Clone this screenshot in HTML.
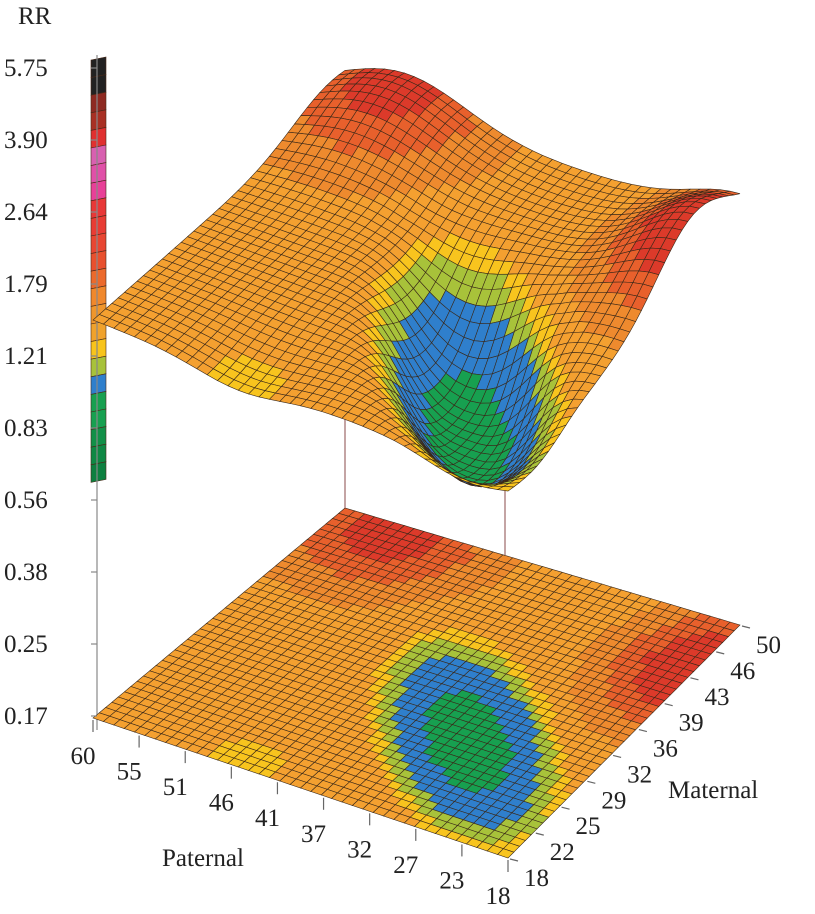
<!DOCTYPE html>
<html><head><meta charset="utf-8"><style>
body{margin:0;background:#fff;}
svg{display:block;}
text{font-family:"Liberation Serif",serif;fill:#222;}
</style></head><body>
<svg id="s" width="815" height="914" viewBox="0 0 815 914" xmlns="http://www.w3.org/2000/svg">
<g id="bar"></g>
<line x1="97" y1="55" x2="97" y2="730" stroke="#888" stroke-width="1.2"/>
<g id="floor"></g>
<line x1="345" y1="395" x2="345" y2="508" stroke="#8a4a4a" stroke-width="1"/>
<line x1="505" y1="480" x2="505" y2="555" stroke="#8a4a4a" stroke-width="1"/>
<g id="surf"></g>
<g id="ticks"></g>
<g font-size="25">
<text x="18" y="24">RR</text>
<text x="4" y="76">5.75</text>
<text x="4" y="148">3.90</text>
<text x="4" y="220">2.64</text>
<text x="4" y="292">1.79</text>
<text x="4" y="364">1.21</text>
<text x="4" y="436">0.83</text>
<text x="4" y="508">0.56</text>
<text x="4" y="580">0.38</text>
<text x="4" y="652">0.25</text>
<text x="4" y="724">0.17</text>
<text x="162" y="866">Paternal</text>
<text x="668" y="798">Maternal</text>
</g>
<g id="lab" font-size="25"></g>
</svg>
<script>
var NS="http://www.w3.org/2000/svg";
function el(p,t,a){var e=document.createElementNS(NS,t);for(var k in a)e.setAttribute(k,a[k]);p.appendChild(e);return e;}
var L=[93,718],F=[508,858],R=[740,625],B=[345,508];
function P(u,v){return [L[0]*(1-u)*(1-v)+F[0]*u*(1-v)+R[0]*u*v+B[0]*(1-u)*v,
 L[1]*(1-u)*(1-v)+F[1]*u*(1-v)+R[1]*u*v+B[1]*(1-u)*v];}
function g(u,v){
 var r=0;
 r+=0.35*Math.exp(-((u-0.15)*(u-0.15)/0.05+(v-0.95)*(v-0.95)/0.05));
 r+=0.45*Math.exp(-((u-1)*(u-1)/0.03+(v-0.8)*(v-0.8)/0.05));
 var s=P(u,v),dx=s[0]-468,dy=s[1]-742;
 var a=dx*0.5+dy*0.87,b=-dx*0.87+dy*0.5;
 var rr=Math.sqrt((a/64)*(a/64)+(b/47)*(b/47));
 r-=1.2*Math.exp(-Math.pow(rr/1.45,3));
 r-=0.17*Math.exp(-((u-0.35)*(u-0.35)/0.02+v*v/0.03));
 return r;}
function tilt(u,v){return 68*(1-u)*(1-v)+45*u*(1-v)+75*u*v+80*(1-u)*v;}
function Z(u,v){var q=g(u,v);return 330+tilt(u,v)+(q>0?130*q:78*q);}
function col(q){
 if(q>0.29)return "#dc3a2a";
 if(q>0.17)return "#e8602c";
 if(q>0.06)return "#ee8a2e";
 if(q>-0.12)return "#f4a030";
 if(q>-0.24)return "#f8c41e";
 if(q>-0.49)return "#a8c23a";
 if(q>-1.0)return "#2f7fcc";
 return "#17a050";}
var N=40,cells=[];
for(var i=0;i<N;i++)for(var j=0;j<N;j++)cells.push([i,j]);
cells.sort(function(a,b){return (a[0]-a[1])-(b[0]-b[1]);});
var fl=document.getElementById("floor"),sf=document.getElementById("surf");
cells.forEach(function(c){
 var u0=c[0]/N,u1=(c[0]+1)/N,v0=c[1]/N,v1=(c[1]+1)/N;
 var q=g((u0+u1)/2,(v0+v1)/2),cl=col(q);
 var pts=[[u0,v0],[u1,v0],[u1,v1],[u0,v1]];
 var fs=pts.map(function(p){var s=P(p[0],p[1]);return s[0].toFixed(1)+","+s[1].toFixed(1);}).join(" ");
 el(fl,"polygon",{points:fs,fill:cl,stroke:"#3a2818","stroke-width":"0.6"});
 var ss=pts.map(function(p){var s=P(p[0],p[1]);return s[0].toFixed(1)+","+(s[1]-Z(p[0],p[1])).toFixed(1);}).join(" ");
 el(sf,"polygon",{points:ss,fill:cl,stroke:"#3a2818","stroke-width":"0.6"});
});
var bar=document.getElementById("bar");
var bc=["#222","#222","#8e2a22","#a83024","#e03030","#d860b0","#e050a8","#e84098","#e83838","#e83c34","#e84632","#e8502e","#ec6a2c","#f0882c","#f0962c","#f0a22c","#f8c41c","#a8c23a","#2f7fcc","#17a050","#17a050","#129048","#0f8844","#0d8040"];
var y0=57,h=17.6;
for(var k=0;k<bc.length;k++){var a=y0+k*h;
 el(bar,"polygon",{points:"91,"+(a+3)+" 106,"+a+" 106,"+(a+h)+" 91,"+(a+h+3),fill:bc[k],stroke:"#4a2a1a","stroke-width":"0.6"});}
var tk=document.getElementById("ticks");
for(var k=0;k<10;k++){var y=68+k*72;el(tk,"line",{x1:91,y1:y,x2:97,y2:y,stroke:"#888","stroke-width":"1.2"});}
var lab=document.getElementById("lab");
var pl=["60","55","51","46","41","37","32","27","23","18"];
for(var k=0;k<10;k++){var s=P(k/9,0);
 el(tk,"line",{x1:s[0],y1:s[1]+2,x2:s[0],y2:s[1]+14,stroke:"#666","stroke-width":"1.2"});
 var t=el(lab,"text",{x:s[0]-10,y:s[1]+46,"text-anchor":"middle"});t.textContent=pl[k];}
var ml=["18","22","25","29","32","36","39","43","46","50"];
for(var k=0;k<10;k++){var s=P(1,k/9);
 el(tk,"line",{x1:s[0]+2,y1:s[1]+1,x2:s[0]+10,y2:s[1]+3,stroke:"#666","stroke-width":"1.2"});
 var t=el(lab,"text",{x:s[0]+16,y:s[1]+28});t.textContent=ml[k];}
</script>
</body></html>
